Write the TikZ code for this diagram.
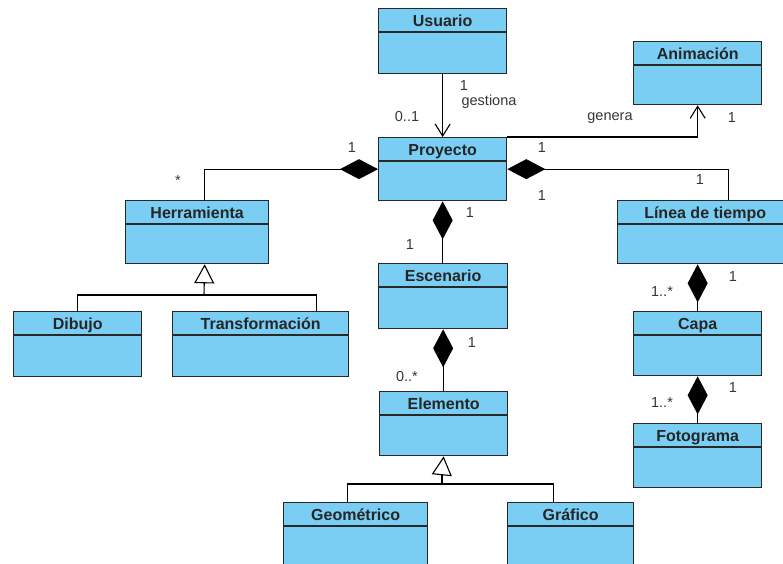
\documentclass[tikz,border=0pt]{standalone}
\usepackage{fontspec}
\setmainfont{Liberation Sans}
\usetikzlibrary{arrows.meta}
\definecolor{clsfill}{RGB}{122,206,244}
\definecolor{clsline}{RGB}{40,40,40}
\definecolor{lbl}{RGB}{55,55,55}
\tikzset{
  clsbox/.style={draw=clsline, fill=clsfill, line width=1.3pt, anchor=north west, inner sep=0pt},
  divider/.style={draw=clsline, line width=1.3pt},
  clstitle/.style={font=\fontsize{16}{18}\selectfont\bfseries, text=black!85, inner sep=0pt, text height=11.5pt, text depth=3.5pt},
  lab/.style={font=\fontsize{14.5}{17}\selectfont, text=lbl, inner sep=0pt},
  conn/.style={draw=black, line width=1.1pt},
  comp/.style={conn, {Diamond[length=38pt,width=20pt]}-},
  nav/.style={conn, -{Straight Barb[length=12pt,width=15pt]}},
  gen/.style={conn, -{Triangle[open,length=19pt,width=20pt,fill=white]}},
}
\newcommand\umlcls[6]{%
  \node[clsbox, minimum width=#4pt, minimum height=#5pt] (#1) at (#2,#3) {};
  \draw[divider] ([yshift=-24pt]#1.north west) -- ([yshift=-24pt]#1.north east);
  \node[clstitle] (#1-t) at ([yshift=-14pt]#1.north) {#6};
}
\begin{document}
\begin{tikzpicture}[x=1pt, y=-1pt]
\useasboundingbox (0,0) rectangle (783,563);
\clip (0,0) rectangle (783,563);
\fill[white] (0,0) rectangle (783,563);

\umlcls{usuario}{378}{8}{128}{65}{Usuario}
\umlcls{proyecto}{378}{137}{128}{63}{Proyecto}
\umlcls{animacion}{633}{41}{128}{63}{Animación}
\umlcls{linea}{617}{200}{175}{63}{Línea de tiempo}
\umlcls{herramienta}{125}{200}{143}{63}{Herramienta}
\umlcls{dibujo}{13}{311}{128}{65}{Dibujo}
\umlcls{transf}{172}{311}{176}{65}{Transformación}
\umlcls{escenario}{378}{263}{129}{65}{Escenario}
\umlcls{elemento}{379}{391}{128}{64}{Elemento}
\umlcls{capa}{633}{311}{128}{64}{Capa}
\umlcls{fotograma}{633}{423}{128}{64}{Fotograma}
\umlcls{geometrico}{283}{502}{144}{75}{Geométrico}
\umlcls{grafico}{507}{502}{126}{75}{Gráfico}

% associations
\draw[nav] (usuario.south) -- (usuario.south |- proyecto.north);
\draw[nav] (proyecto.north east) -| (animacion.south);

% compositions
\draw[comp] (proyecto.west) -| ([xshift=7.5pt]herramienta.north);
\draw[comp] (proyecto.east) -| ([xshift=23.5pt]linea.north);
\draw[comp] (proyecto.south) -- (proyecto.south |- escenario.north);
\draw[comp] (escenario.south) -- (escenario.south |- elemento.north);
\draw[comp] (capa.north |- linea.south) -- (capa.north);
\draw[comp] (capa.south) -- (fotograma.north);

% generalization Herramienta
\coordinate (hbar) at (204,295);
\draw[conn] (dibujo.north) |- (hbar) -| ([xshift=56pt]transf.north);
\draw[gen] (hbar) -- ([xshift=7.5pt]herramienta.south);

% generalization Elemento
\coordinate (ebar) at (442,484);
\coordinate (estem) at (442,473);
\draw[conn] ([xshift=-8pt]geometrico.north) |- (ebar) -| ([xshift=-17pt]grafico.north);
\draw[conn, line width=2.6pt] (ebar) -- (estem);
\draw[gen] (estem) -- (elemento.south |- elemento.south);

% labels
\node[lab] (l1) at (464,85.5) {1};
\node[lab] (l2) at (489,102) {gestiona};
\node[lab] (l3) at (407,117) {0..1};
\node[lab] (l4) at (610,118) {genera};
\node[lab] (l5) at (732,118) {1};
\node[lab] (l6) at (542,148) {1};
\node[lab] (l7) at (352,148) {1};
\node[lab] (l8) at (178,181) {*};
\node[lab] (l9) at (542,196) {1};
\node[lab] (l10) at (700,180) {1};
\node[lab] (l11) at (470,213) {1};
\node[lab] (l12) at (410,245) {1};
\node[lab] (l13) at (472,343) {1};
\node[lab] (l14) at (407,376) {0..*};
\node[lab] (l15) at (733,277) {1};
\node[lab] (l16) at (662,292) {1..*};
\node[lab] (l17) at (733,388) {1};
\node[lab] (l18) at (662,403) {1..*};
\end{tikzpicture}
\end{document}
